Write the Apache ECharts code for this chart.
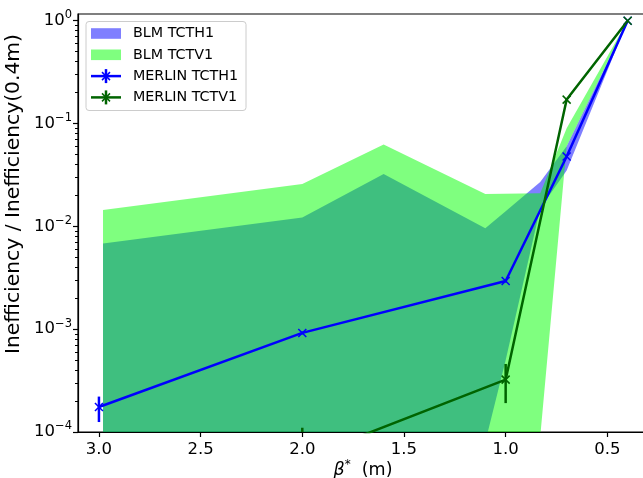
<!DOCTYPE html>
<html>
<head>
<meta charset="utf-8">
<script src="https://cdn.jsdelivr.net/npm/echarts@6/dist/echarts.min.js"></script>
<style>
  html, body { margin: 0; padding: 0; background: #fff; }
  #chart { width: 643px; height: 478px; }
</style>
</head>
<body>
<div id="chart"></div>
<script>
// beta* values (m) and tick positions
const xTicks = [0.5, 1.0, 1.5, 2.0, 2.5, 3.0];
const yTicks = [1e-4, 1e-3, 1e-2, 1e-1, 1];
const yMinorTicks = [];
for (let e = -4; e < 0; e++) for (let m = 2; m <= 9; m++) yMinorTicks.push(m * Math.pow(10, e));

// BLM bands (upper / lower envelope), normalised to beta* = 0.4 m
const blmH_x    = [2.98, 2.0, 1.6, 1.1, 1.0, 0.83, 0.7, 0.4];
const blmH_high = [0.0068, 0.0122, 0.0324, 0.0096, 0.014, 0.027, 0.06, 1.0];
const blmH_low  = [1e-6, 1e-6, 1e-6, 8e-5, 5e-4, 0.015, 0.035, 1.0];

const blmV_x    = [2.98, 2.0, 1.6, 1.1, 0.83, 0.7, 0.4];
const blmV_high = [0.0144, 0.0259, 0.0626, 0.0207, 0.021, 0.09, 1.0];
const blmV_low  = [1e-6, 1e-6, 1e-6, 1e-6, 9e-5, 0.06, 1.0];

// MERLIN simulation with error bars
const merH_x  = [3.0, 2.0, 1.0, 0.7, 0.4];
const merH    = [1.75e-4, 9.2e-4, 2.94e-3, 0.0478, 1.0];
const merH_lo = [1.25e-4, 8.9e-4, 2.85e-3, 0.0465, 1.0];
const merH_hi = [2.21e-4, 9.5e-4, 3.03e-3, 0.049, 1.0];

const merV_x  = [2.0, 1.0, 0.7, 0.4];
const merV    = [5.5e-5, 3.23e-4, 0.171, 1.0];
const merV_lo = [2e-5, 1.91e-4, 0.165, 1.0];
const merV_hi = [1.1e-4, 4.59e-4, 0.177, 1.0];

const names = ['BLM TCTH1', 'BLM TCTV1', 'MERLIN TCTH1', 'MERLIN TCTV1'];
const BLUE = '#0000ff', DKGREEN = '#006400';
const FONT = 'DejaVu Sans';
const X_PATH = 'path://M0,0L10,10M10,0L0,10';

function bandSeries(name, xs, hi, lo, fill) {
  return {
    name: name, type: 'custom', clip: true, silent: true,
    data: xs.map((x, i) => [x, hi[i], lo[i]]),
    encode: { x: 0, y: [1, 2] },
    renderItem: function (params, api) {
      if (params.dataIndex !== 0) return null;
      const pts = [];
      for (let i = 0; i < xs.length; i++) pts.push(api.coord([xs[i], hi[i]]));
      for (let i = xs.length - 1; i >= 0; i--) pts.push(api.coord([xs[i], lo[i]]));
      return { type: 'polygon', shape: { points: pts }, style: { fill: fill } };
    }
  };
}

function errSeries(name, xs, lo, hi, color) {
  return {
    name: name, type: 'custom', clip: true, silent: true,
    data: xs.map((x, i) => [x, lo[i], hi[i]]),
    encode: { x: 0, y: [1, 2] },
    renderItem: function (params, api) {
      const a = api.coord([api.value(0), api.value(1)]);
      const b = api.coord([api.value(0), api.value(2)]);
      return { type: 'line', shape: { x1: a[0], y1: a[1], x2: b[0], y2: b[1] },
               style: { stroke: color, lineWidth: 2.5 } };
    }
  };
}

function lineSeries(name, xs, ys, color) {
  return {
    name: name, type: 'line', clip: true, silent: true,
    data: xs.map((x, i) => [x, ys[i]]),
    symbol: X_PATH, symbolSize: 8, showAllSymbol: true,
    lineStyle: { color: color, width: 2.5 },
    itemStyle: { color: color, borderColor: color, borderWidth: 1.5 },
    emphasis: { disabled: true }
  };
}

function supLabel(v) {
  const e = Math.round(Math.log10(v));
  return '{b|10}{s|' + (e < 0 ? '\u2212' + (-e) : String(e)) + '}';
}

// legend drawn as matplotlib-style box
const LX = 91, LY = [33.5, 54.8, 76.1, 97.4];
function legendLineIcon(y, color) {
  return [
    { type: 'line', shape: { x1: LX, y1: y, x2: LX + 30, y2: y }, style: { stroke: color, lineWidth: 2.5 } },
    { type: 'line', shape: { x1: LX + 15, y1: y - 7, x2: LX + 15, y2: y + 7 }, style: { stroke: color, lineWidth: 2.5 } },
    { type: 'line', shape: { x1: LX + 11, y1: y - 4, x2: LX + 19, y2: y + 4 }, style: { stroke: color, lineWidth: 1.5 } },
    { type: 'line', shape: { x1: LX + 19, y1: y - 4, x2: LX + 11, y2: y + 4 }, style: { stroke: color, lineWidth: 1.5 } }
  ];
}
const legendChildren = [
  { type: 'rect', shape: { x: 86, y: 21.5, width: 160, height: 89, r: 3 },
    style: { fill: 'rgba(255,255,255,0.8)', stroke: '#cccccc', lineWidth: 1 } },
  { type: 'rect', shape: { x: LX, y: LY[0] - 5.3, width: 30, height: 10.6 }, style: { fill: 'rgba(0,0,255,0.5)' } },
  { type: 'rect', shape: { x: LX, y: LY[1] - 5.3, width: 30, height: 10.6 }, style: { fill: 'rgba(0,255,0,0.5)' } }
].concat(legendLineIcon(LY[2], BLUE), legendLineIcon(LY[3], DKGREEN));
names.forEach((n, i) => legendChildren.push({
  type: 'text', style: { text: n, x: 133, y: LY[i], fill: '#000', font: '14.3px "' + FONT + '"',
                         textVerticalAlign: 'middle', textAlign: 'left' }
}));

const chart = echarts.init(document.getElementById('chart'), null, { renderer: 'canvas' });
chart.setOption({
  animation: false,
  backgroundColor: '#fff',
  textStyle: { fontFamily: FONT },
  grid: { left: 78, right: -5, top: 14, bottom: 46, show: true, borderColor: '#000', borderWidth: 1.2,
          containLabel: false, outerBoundsMode: 'none' },
  xAxis: {
    type: 'value', inverse: true, min: 0.30, max: 3.103,
    name: '{i|\u03b2}{s|*}{n|  (m)}', nameLocation: 'middle', nameGap: 27, nameMoveOverlap: false,
    nameTextStyle: { rich: {
      i: { fontSize: 17.5, fontStyle: 'italic', fontFamily: FONT, color: '#000' },
      s: { fontSize: 12, fontFamily: FONT, color: '#000', padding: [0, 0, 10, 0] },
      n: { fontSize: 17.5, fontFamily: FONT, color: '#000' } } },
    axisLine: { lineStyle: { color: '#000', width: 1.2 } },
    axisTick: { customValues: xTicks, length: 5, lineStyle: { color: '#000', width: 1.2 } },
    axisLabel: { customValues: xTicks, formatter: v => v.toFixed(1), fontSize: 16.5,
                 fontFamily: FONT, color: '#000', margin: 9 },
    splitLine: { show: false }
  },
  yAxis: [{
    type: 'log', logBase: 10, min: 1e-4, max: 1.163,
    name: 'Inefficiency / Inefficiency(0.4m)', nameLocation: 'middle', nameGap: 54, nameMoveOverlap: false,
    nameTextStyle: { fontSize: 20.3, fontFamily: FONT, color: '#000', padding: [0, 0, 0, 58] },
    axisLine: { show: true, lineStyle: { color: '#000', width: 1.2 } },
    axisTick: { customValues: yTicks, length: 5, lineStyle: { color: '#000', width: 1.2 } },
    axisLabel: { customValues: yTicks, formatter: supLabel, margin: 6,
      rich: { b: { fontSize: 16.5, fontFamily: FONT, color: '#000' },
              s: { fontSize: 11.5, fontFamily: FONT, color: '#000', padding: [0, 0, 11, 0] } } },
    splitLine: { show: false }
  }, {
    type: 'log', logBase: 10, min: 1e-4, max: 1.163, position: 'left', offset: 0,
    axisLine: { show: false },
    axisTick: { show: true, customValues: yMinorTicks, length: 3, lineStyle: { color: '#000', width: 1 } },
    axisLabel: { show: false },
    splitLine: { show: false }
  }],
  series: [
    bandSeries(names[0], blmH_x, blmH_high, blmH_low, 'rgba(0,0,255,0.5)'),
    bandSeries(names[1], blmV_x, blmV_high, blmV_low, 'rgba(0,255,0,0.5)'),
    errSeries(names[2] + ' err', merH_x, merH_lo, merH_hi, BLUE),
    lineSeries(names[2], merH_x, merH, BLUE),
    errSeries(names[3] + ' err', merV_x, merV_lo, merV_hi, DKGREEN),
    lineSeries(names[3], merV_x, merV, DKGREEN)
  ],
  graphic: [{ type: 'group', z: 100, children: legendChildren }]
});
</script>
</body>
</html>
